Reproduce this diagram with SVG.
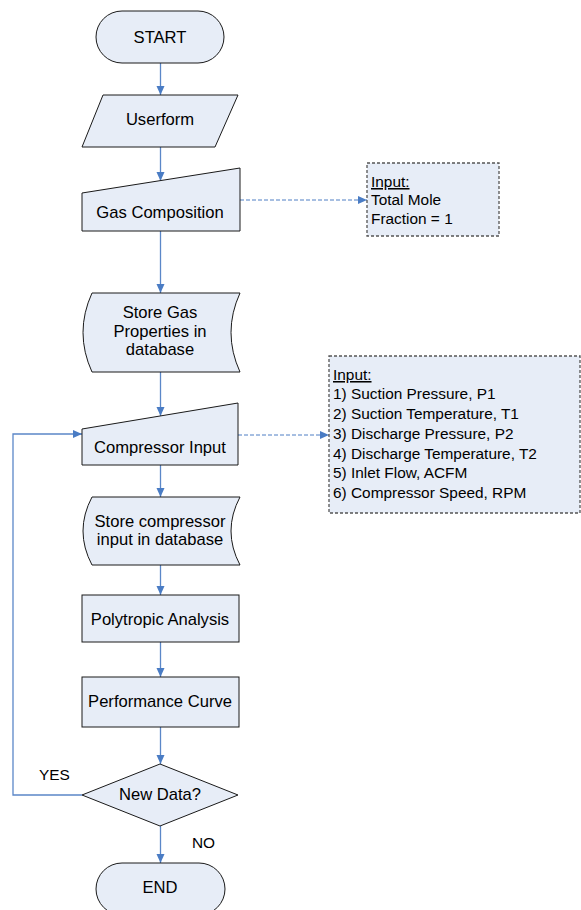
<svg xmlns="http://www.w3.org/2000/svg" width="581" height="910" viewBox="0 0 581 910">
<style>
.shape{fill:#E7EDF7;stroke:#1a1a1a;stroke-width:1}
.note{fill:#E7EDF7;stroke:#555;stroke-width:1.3;stroke-dasharray:3,2}
.t{font-family:"Liberation Sans",Arial,sans-serif;font-size:16.6px;fill:#000;text-anchor:middle}
.n{font-family:"Liberation Sans",Arial,sans-serif;font-size:15.4px;fill:#000}
.c{fill:none;stroke:#5B87C8;stroke-width:1.3}
.d{fill:none;stroke:#4F7FC4;stroke-width:1;stroke-dasharray:4,2}
</style>
<defs>
<marker id="ah" markerWidth="10" markerHeight="10" refX="9" refY="5" orient="auto" markerUnits="userSpaceOnUse">
<path d="M0,1 L9,5 L0,9 Z" fill="#4A7CC4"/>
</marker>
</defs>
<g id="connectors">
<path class="c" d="M160.5,63 V95" marker-end="url(#ah)"/>
<path class="c" d="M160.5,147 V181" marker-end="url(#ah)"/>
<path class="c" d="M160.5,231 V293" marker-end="url(#ah)"/>
<path class="c" d="M160.5,372 V416" marker-end="url(#ah)"/>
<path class="c" d="M160.5,465 V497" marker-end="url(#ah)"/>
<path class="c" d="M160.5,565 V595" marker-end="url(#ah)"/>
<path class="c" d="M160.5,642 V677" marker-end="url(#ah)"/>
<path class="c" d="M160.5,727 V764" marker-end="url(#ah)"/>
<path class="c" d="M160.5,826 V863" marker-end="url(#ah)"/>
<path class="c" d="M82,795 H13 V434 H82" marker-end="url(#ah)"/>
<path class="d" d="M240,200 H367" marker-end="url(#ah)"/>
<path class="d" d="M238,435 H329" marker-end="url(#ah)"/>
<text class="n" x="39" y="780" font-size="13.5">YES</text>
<text class="n" x="192" y="848" font-size="13.5">NO</text>
</g>
<g id="start">
<rect class="shape" x="96" y="11" width="128" height="52" rx="26" ry="26"/>
<text class="t" x="160" y="43">START</text>
</g>
<g id="userform">
<polygon class="shape" points="103,95 238,95 215,147 82,147"/>
<text class="t" x="160" y="125">Userform</text>
</g>
<g id="gas-composition">
<polygon class="shape" points="82,193 240,168 240,231 82,231"/>
<text class="t" x="160" y="218">Gas Composition</text>
</g>
<g id="note-mole">
<rect class="note" x="367" y="163" width="132" height="73"/>
<text class="n" x="371" y="187" text-decoration="underline">Input:</text>
<text class="n" x="371" y="205">Total Mole</text>
<text class="n" x="371" y="224">Fraction = 1</text>
</g>
<g id="store-gas">
<path class="shape" d="M92,293 L240,293 Q222,332.5 240,372 L92,372 Q74,332.5 92,293 Z"/>
<text class="t" x="160" y="318">Store Gas</text>
<text class="t" x="160" y="337">Properties in</text>
<text class="t" x="160" y="355">database</text>
</g>
<g id="compressor-input">
<polygon class="shape" points="82,429 238,403 238,465 82,465"/>
<text class="t" x="160" y="453">Compressor Input</text>
</g>
<g id="note-compressor">
<rect class="note" x="329" y="356" width="251" height="157"/>
<text class="n" x="333" y="380" text-decoration="underline">Input:</text>
<text class="n" x="333" y="399">1) Suction Pressure, P1</text>
<text class="n" x="333" y="419">2) Suction Temperature, T1</text>
<text class="n" x="333" y="439">3) Discharge Pressure, P2</text>
<text class="n" x="333" y="459">4) Discharge Temperature, T2</text>
<text class="n" x="333" y="478">5) Inlet Flow, ACFM</text>
<text class="n" x="333" y="498">6) Compressor Speed, RPM</text>
</g>
<g id="store-compressor">
<path class="shape" d="M92,497 L240,497 Q222,531 240,565 L92,565 Q74,531 92,497 Z"/>
<text class="t" x="160" y="527">Store compressor</text>
<text class="t" x="160" y="545">input in database</text>
</g>
<g id="polytropic">
<rect class="shape" x="82" y="595" width="157" height="47"/>
<text class="t" x="160" y="625">Polytropic Analysis</text>
</g>
<g id="performance">
<rect class="shape" x="82" y="677" width="157" height="50"/>
<text class="t" x="160" y="707">Performance Curve</text>
</g>
<g id="decision">
<polygon class="shape" points="160,764 238,795 160,826 82,795"/>
<text class="t" x="160" y="800">New Data?</text>
</g>
<g id="end">
<rect class="shape" x="96" y="863" width="129" height="52" rx="26" ry="26"/>
<text class="t" x="160" y="893">END</text>
</g>
</svg>
